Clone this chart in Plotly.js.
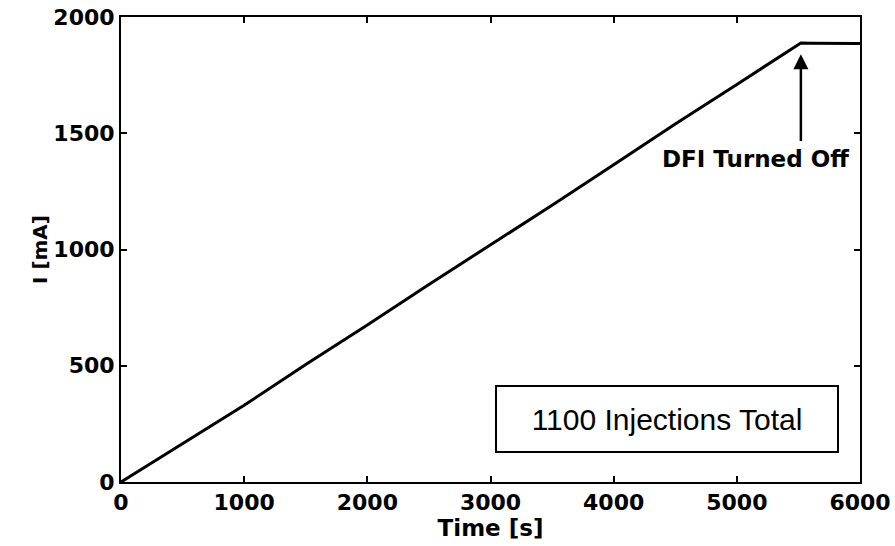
<!DOCTYPE html>
<html>
<head>
<meta charset="utf-8">
<script src="https://cdn.plot.ly/plotly-3.0.1.min.js"></script>
<style>html,body{margin:0;padding:0;background:#fff;}#chart{width:895px;height:546px;}</style>
</head>
<body>
<div id="chart"></div>
<script>
// Data
var timeS = [0, 500, 1000, 1500, 2000, 2500, 3000, 3500, 4000, 4500, 5000, 5520, 5600, 6000];
var currentMA = [0, 165, 330, 505, 675, 850, 1020, 1190, 1365, 1540, 1710, 1888, 1887, 1886];
var xTicks = [0, 1000, 2000, 3000, 4000, 5000, 6000];
var yTicks = [0, 500, 1000, 1500, 2000];
var arrowNote = {text: 'DFI Turned Off', x: 5520, yHead: 1840, yTail: 1460, textX: 5155, textY: 1390};
var boxNote = {text: '1100 Injections Total', x: 4432, y: 272};

var boldFont = 'DejaVu Sans, Verdana, sans-serif';

var trace = {
  x: timeS, y: currentMA, type: 'scatter', mode: 'lines',
  line: {color: '#000', width: 3}, hoverinfo: 'skip'
};

var axisCommon = {
  showgrid: false, zeroline: false, showline: true, linecolor: '#000', linewidth: 2,
  mirror: 'ticks', ticks: 'inside', ticklen: 6, tickwidth: 2, tickcolor: '#000',
  tickfont: {family: boldFont, size: 22, color: '#000', weight: 'bold'}
};

var layout = {
  width: 895, height: 546,
  margin: {l: 121, r: 35, t: 17, b: 64},
  paper_bgcolor: '#fff', plot_bgcolor: '#fff',
  showlegend: false,
  xaxis: Object.assign({}, axisCommon, {
    range: [0, 6000], tickvals: xTicks, ticktext: xTicks.map(String),
    title: {text: 'Time [s]', standoff: 4, font: {family: boldFont, size: 23, color: '#000', weight: 'bold'}}
  }),
  yaxis: Object.assign({}, axisCommon, {
    range: [0, 2000], tickvals: yTicks, ticktext: yTicks.map(String),
    title: {text: 'I [mA]', standoff: 0, font: {family: boldFont, size: 20, color: '#000', weight: 'bold'}}
  }),
  annotations: [
    {
      x: arrowNote.x, y: arrowNote.yHead, ax: arrowNote.x, ay: arrowNote.yTail,
      xref: 'x', yref: 'y', axref: 'x', ayref: 'y',
      text: '', showarrow: true, arrowhead: 2, arrowsize: 1.2, arrowwidth: 2.5, arrowcolor: '#000'
    },
    {
      x: arrowNote.textX, y: arrowNote.textY, xref: 'x', yref: 'y',
      text: arrowNote.text, showarrow: false,
      font: {family: boldFont, size: 23, color: '#000', weight: 'bold'}
    },
    {
      x: boxNote.x, y: boxNote.y, xref: 'x', yref: 'y',
      text: boxNote.text, showarrow: false,
      width: 336, height: 60, borderpad: 2,
      bordercolor: '#000', borderwidth: 2, bgcolor: '#fff',
      font: {family: 'Arial, Liberation Sans, sans-serif', size: 30, color: '#000'}
    }
  ]
};

Plotly.newPlot('chart', [trace], layout, {staticPlot: true, displayModeBar: false});
</script>
</body>
</html>
